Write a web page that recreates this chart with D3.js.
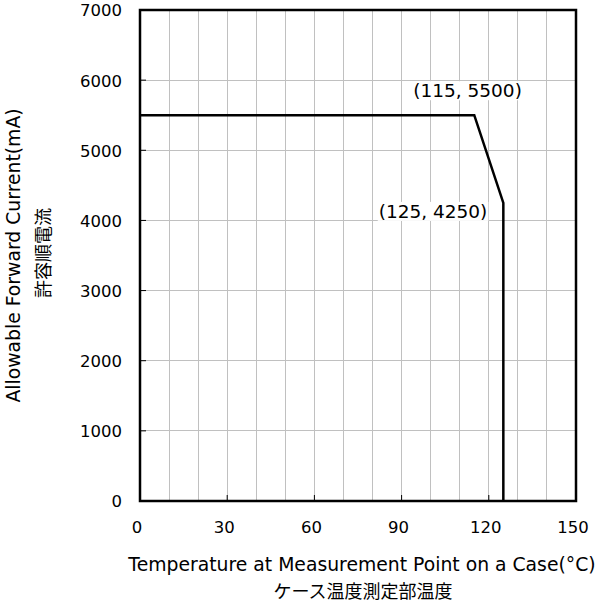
<!DOCTYPE html>
<html><head><meta charset="utf-8">
<script src="https://cdn.jsdelivr.net/npm/d3@7"></script>
<style>body{margin:0;background:#fff}text{font-family:"DejaVu Sans",Verdana,sans-serif}</style>
</head><body><svg id="c" width="597" height="604"></svg>
<script>
const tempC = [0, 115, 125, 125];
const currentMA = [5500, 5500, 4250, 0];
const xTicks = [0, 30, 60, 90, 120, 150];
const yTicks = [0, 1000, 2000, 3000, 4000, 5000, 6000, 7000];
const xGrid = d3.range(0, 151, 10);
const annotations = [{t:115, c:5500, label:"(115, 5500)"}, {t:125, c:4250, label:"(125, 4250)"}];

const svg = d3.select("#c");
const L = 140, R = 576, T = 10, B = 501;
const x = d3.scaleLinear().domain([0,150]).range([L,R]);
const y = d3.scaleLinear().domain([0,7000]).range([B,T]);

svg.append("g").selectAll("line").data(xGrid).join("line")
  .attr("x1",d=>x(d)).attr("x2",d=>x(d)).attr("y1",T).attr("y2",B)
  .attr("stroke","#c0c0c0").attr("stroke-width",1).attr("shape-rendering","crispEdges");
svg.append("g").selectAll("line").data(yTicks).join("line")
  .attr("x1",L).attr("x2",R).attr("y1",d=>y(d)).attr("y2",d=>y(d))
  .attr("stroke","#c0c0c0").attr("stroke-width",1).attr("shape-rendering","crispEdges");

// small inner ticks
svg.append("g").selectAll("line").data(yTicks).join("line")
  .attr("x1",L).attr("x2",L+6).attr("y1",d=>y(d)).attr("y2",d=>y(d))
  .attr("stroke","#000").attr("stroke-width",1);
svg.append("g").selectAll("line").data(xTicks).join("line")
  .attr("x1",d=>x(d)).attr("x2",d=>x(d)).attr("y1",B).attr("y2",B-6)
  .attr("stroke","#000").attr("stroke-width",1);

svg.append("rect").attr("x",L).attr("y",T).attr("width",R-L).attr("height",B-T)
  .attr("fill","none").attr("stroke","#000").attr("stroke-width",2.5);

const line = d3.line().x(d=>x(d[0])).y(d=>y(d[1]));
svg.append("path").datum(tempC.map((t,i)=>[t,currentMA[i]]))
  .attr("d",line).attr("fill","none").attr("stroke","#000").attr("stroke-width",2.5);

// axes labels
const xAxis = d3.axisBottom(x).tickValues(xTicks).tickFormat(d3.format("d")).tickSize(0).tickPadding(0);
const gx = svg.append("g").attr("transform",`translate(-3.5,${B})`).call(xAxis);
gx.select(".domain").remove();
gx.selectAll("text").attr("y",26).attr("dy","0.36em").attr("font-size",16.5).attr("fill","#000")
  .style("font-family","DejaVu Sans, Verdana, sans-serif");
const yAxis = d3.axisLeft(y).tickValues(yTicks).tickFormat(d3.format("d")).tickSize(0).tickPadding(0);
const gy = svg.append("g").attr("transform",`translate(${L},0)`).call(yAxis);
gy.select(".domain").remove();
gy.selectAll("text").attr("x",-18).attr("dy","0.36em").attr("font-size",16.5).attr("fill","#000")
  .style("font-family","DejaVu Sans, Verdana, sans-serif");

const ann = svg.append("g").selectAll("g").data(annotations).join("g");
ann.append("text")
  .attr("x",(d,i)=> i===0 ? x(d.t)-61 : x(d.t)-16)
  .attr("y",(d,i)=> i===0 ? y(d.c)-18 : y(d.c)+15)
  .attr("text-anchor",(d,i)=> i===0 ? "start" : "end")
  .attr("font-size",18.5).attr("fill","#000")
  .text(d=>d.label);
ann.each(function(){
  const g = d3.select(this), bb = g.select("text").node().getBBox();
  g.insert("rect","text").attr("x",bb.x-1).attr("y",bb.y+1).attr("width",bb.width+2).attr("height",bb.height-2).attr("fill","#fff");
});

svg.append("text").attr("x",362).attr("y",571).attr("text-anchor","middle")
  .attr("font-size",18.8).text("Temperature at Measurement Point on a Case(°C)");
svg.append("text").attr("x",363).attr("y",598).attr("text-anchor","middle")
  .attr("font-size",18).style("font-family","Noto Sans CJK JP").text("ケース温度測定部温度");
svg.append("text").attr("transform","translate(20,255.5) rotate(-90)").attr("text-anchor","middle")
  .attr("font-size",18.8).text("Allowable Forward Current(mA)");
svg.append("text").attr("transform","translate(50,253) rotate(-90)").attr("text-anchor","middle")
  .attr("font-size",18).style("font-family","Noto Sans CJK JP").text("許容順電流");
</script></body></html>
